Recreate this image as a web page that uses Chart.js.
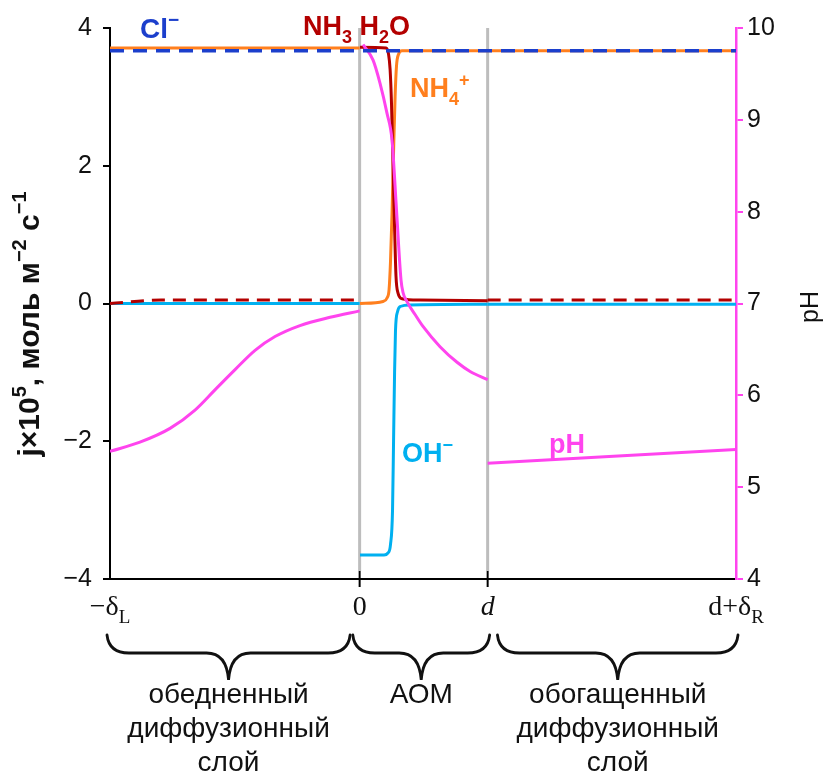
<!DOCTYPE html>
<html>
<head>
<meta charset="utf-8">
<script src="https://cdn.jsdelivr.net/npm/chart.js@4.4.1/dist/chart.umd.min.js"></script>
<style>
  html, body { margin: 0; padding: 0; background: #fff; }
  canvas { display: block; }
</style>
</head>
<body>
<canvas id="c" width="824" height="774"></canvas>
<script>
// Coordinate across the cell: -δL .. 0 (depleted layer), 0 .. d (AOM), d .. d+δR (enriched layer)
const xTickValues = [-1.95, 0, 1, 2.94];
const dividerX = [0, 1];

// Cl− flux (dashed, whole span)
const clX = [-1.95, 2.94];
const clJ = [3.67, 3.67];

// NH4+ flux
const nh4LeftX = [-1.95, 0];
const nh4LeftJ = [3.71, 3.71];
const nh4AomX = [0.003, 0.183, 0.214, 0.23, 0.241, 0.253, 0.265, 0.277, 0.288, 0.304, 0.331, 1.0];
const nh4AomJ = [0.0, 0.03, 0.08, 0.2, 0.6, 1.3, 2.2, 3.0, 3.45, 3.62, 3.67, 3.67];
const nh4RightX = [1, 2.94];
const nh4RightJ = [3.67, 3.67];

// NH3·H2O flux
const nh3LeftX = [-1.95, -1.55, 0];
const nh3LeftJ = [0.0, 0.05, 0.05];
const nh3AomX = [0.003, 0.206, 0.226, 0.238, 0.249, 0.261, 0.273, 0.284, 0.3, 0.331, 0.472, 1.0];
const nh3AomJ = [3.72, 3.71, 3.62, 3.4, 2.9, 2.0, 1.1, 0.4, 0.15, 0.07, 0.05, 0.04];
const nh3RightX = [1, 2.94];
const nh3RightJ = [0.05, 0.05];

// OH− flux
const ohLeftX = [-1.95, 0];
const ohLeftJ = [0, 0];
const ohAomX = [0.003, 0.191, 0.222, 0.241, 0.257, 0.265, 0.273, 0.280, 0.296, 0.323, 0.394, 1.0];
const ohAomJ = [-3.65, -3.65, -3.62, -3.5, -3.0, -2.0, -1.0, -0.4, -0.12, -0.04, -0.02, -0.01];
const ohRightX = [1, 2.94];
const ohRightJ = [-0.01, -0.01];

// pH profile
const phLeftX = [-1.95, -1.716, -1.481, -1.286, -1.13, -0.973, -0.817, -0.661, -0.466, -0.231, 0];
const phLeft = [5.39, 5.49, 5.64, 5.84, 6.06, 6.28, 6.49, 6.64, 6.76, 6.85, 6.92];
const phAomX = [0.027, 0.105, 0.159, 0.214, 0.253, 0.288, 0.323, 0.339, 0.37, 0.433, 0.495, 0.628, 0.761, 0.863, 1.0];
const phAom = [9.82, 9.65, 9.40, 9.07, 8.78, 8.02, 7.26, 7.12, 7.02, 6.88, 6.75, 6.53, 6.36, 6.26, 6.17];
const phRightX = [1, 2.94];
const phRight = [5.26, 5.41];

const C_CL = '#1c3fcc';
const C_NH4 = '#ff7f1e';
const C_NH3 = '#b30000';
const C_OH = '#00b0f0';
const C_PH = '#ff44ee';

const pts = (xs, ys) => xs.map((x, i) => ({ x, y: ys[i] }));

function line(data, color, opts) {
  return Object.assign({
    data, borderColor: color, backgroundColor: color, borderWidth: 3,
    pointRadius: 0, fill: false, showLine: true, yAxisID: 'y',
    cubicInterpolationMode: 'monotone', borderCapStyle: 'butt'
  }, opts || {});
}

const datasets = [
  line(pts(clX, clJ), C_CL, { borderDash: [14, 9], borderWidth: 3.5, order: 0 }),
  line(pts(phLeftX, phLeft), C_PH, { yAxisID: 'ph', order: 1 }),
  line(pts(phAomX, phAom), C_PH, { yAxisID: 'ph', order: 1 }),
  line(pts(phRightX, phRight), C_PH, { yAxisID: 'ph', order: 1 }),
  line(pts(nh3LeftX, nh3LeftJ), C_NH3, { borderDash: [13, 8], order: 2 }),
  line(pts(nh3AomX, nh3AomJ), C_NH3, { order: 2 }),
  line(pts(nh3RightX, nh3RightJ), C_NH3, { borderDash: [13, 8], order: 2 }),
  line(pts(nh4LeftX, nh4LeftJ), C_NH4, { order: 3 }),
  line(pts(nh4AomX, nh4AomJ), C_NH4, { order: 3 }),
  line(pts(nh4RightX, nh4RightJ), C_NH4, { order: 3 }),
  line(pts(ohLeftX, ohLeftJ), C_OH, { order: 4 }),
  line(pts(ohAomX, ohAomJ), C_OH, { order: 4 }),
  line(pts(ohRightX, ohRightJ), C_OH, { order: 4 })
];

// text with sub/superscripts: parts = [{t, sub, sup, it}]
function drawRich(ctx, parts, x, y, size, weight, family, color, align) {
  const fontFor = p => {
    const s = (p.sub || p.sup) ? Math.round(size * 0.68) : size;
    return (p.it ? 'italic ' : '') + weight + ' ' + s + 'px ' + family;
  };
  let total = 0;
  parts.forEach(p => { ctx.font = fontFor(p); total += ctx.measureText(p.t).width; });
  let cx = align === 'center' ? x - total / 2 : (align === 'right' ? x - total : x);
  ctx.fillStyle = color;
  ctx.textBaseline = 'alphabetic';
  ctx.textAlign = 'left';
  parts.forEach(p => {
    ctx.font = fontFor(p);
    const dy = p.sub ? size * 0.28 : (p.sup ? -size * 0.42 : 0);
    ctx.fillText(p.t, cx, y + dy);
    cx += ctx.measureText(p.t).width;
  });
}

function brace(ctx, x1, x2, xm, yTop, yMid, yTip) {
  const r = 22;
  ctx.beginPath();
  ctx.moveTo(x1, yTop);
  ctx.quadraticCurveTo(x1 + 2, yMid, x1 + r, yMid);
  ctx.lineTo(xm - r, yMid);
  ctx.quadraticCurveTo(xm - 2, yMid, xm, yTip);
  ctx.quadraticCurveTo(xm + 2, yMid, xm + r, yMid);
  ctx.lineTo(x2 - r, yMid);
  ctx.quadraticCurveTo(x2 - 2, yMid, x2, yTop);
  ctx.stroke();
}

const xTickParts = [
  [{ t: '\u2212\u03b4' }, { t: 'L', sub: true }],
  [{ t: '0' }],
  [{ t: 'd', it: true }],
  [{ t: 'd+\u03b4' }, { t: 'R', sub: true }]
];

const zoneLabels = [
  { from: -1.95, to: -0.09, lines: ['обедненный', 'диффузионный', 'слой'] },
  { from: -0.03, to: 1, lines: ['АОМ'] },
  { from: 1.1, to: 2.94, lines: ['обогащенный', 'диффузионный', 'слой'] }
];

const annot = {
  id: 'annot',
  beforeDatasetsDraw(chart) {
    const { ctx, chartArea: a, scales: { x } } = chart;
    ctx.save();
    ctx.strokeStyle = '#bdbdbd';
    ctx.lineWidth = 3;
    dividerX.forEach(v => {
      const px = x.getPixelForValue(v);
      ctx.beginPath();
      ctx.moveTo(px, a.top);
      ctx.lineTo(px, a.bottom - 8);
      ctx.stroke();
    });
    ctx.restore();
  },
  afterDraw(chart) {
    const { ctx, chartArea: a, scales: { x } } = chart;
    ctx.save();
    // x tick marks
    ctx.strokeStyle = '#000';
    ctx.lineWidth = 2;
    xTickValues.slice(1, 3).forEach(v => {
      const px = x.getPixelForValue(v);
      ctx.beginPath();
      ctx.moveTo(px, a.bottom - 8);
      ctx.lineTo(px, a.bottom + 8);
      ctx.stroke();
    });
    // x tick labels
    xTickValues.forEach((v, i) => {
      const px = x.getPixelForValue(v);
      drawRich(ctx, xTickParts[i], px, a.bottom + 36, 28, 'normal', '"Liberation Serif", "Times New Roman", serif', '#111', 'center');
    });
    // braces and zone captions
    ctx.strokeStyle = '#111';
    ctx.lineWidth = 2.8;
    ctx.lineCap = 'round';
    zoneLabels.forEach(z => {
      const p1 = x.getPixelForValue(z.from) - 3;
      const p2 = x.getPixelForValue(z.to) + 2;
      const pm = (p1 + p2) / 2;
      brace(ctx, p1, p2, pm, a.bottom + 56, a.bottom + 74, a.bottom + 101);
      z.lines.forEach((t, k) => {
        ctx.font = '28px "Liberation Sans", Arial, sans-serif';
        ctx.fillStyle = '#111';
        ctx.textAlign = 'center';
        ctx.textBaseline = 'alphabetic';
        ctx.fillText(t, pm, a.bottom + 124 + k * 34);
      });
    });
    // series labels
    const bold = '"Liberation Sans", Arial, sans-serif';
    drawRich(ctx, [{ t: 'Cl' }, { t: '\u2212', sup: true }], 140, 38, 28, 'bold', bold, C_CL, 'left');
    drawRich(ctx, [{ t: 'NH' }, { t: '3', sub: true }, { t: ' H' }, { t: '2', sub: true }, { t: 'O' }], 303, 35, 27, 'bold', bold, C_NH3, 'left');
    drawRich(ctx, [{ t: 'NH' }, { t: '4', sub: true }, { t: '+', sup: true }], 410, 97, 27, 'bold', bold, C_NH4, 'left');
    drawRich(ctx, [{ t: 'OH' }, { t: '\u2212', sup: true }], 402, 462, 27, 'bold', bold, C_OH, 'left');
    drawRich(ctx, [{ t: 'pH' }], 549, 453, 27, 'bold', bold, C_PH, 'left');
    // axis titles (both read bottom to top)
    ctx.save();
    ctx.translate(39, 324);
    ctx.rotate(-Math.PI / 2);
    drawRich(ctx, [{ t: 'j\u00d710' }, { t: '5', sup: true }, { t: ', моль м' }, { t: '\u22122', sup: true }, { t: ' с' }, { t: '\u22121', sup: true }], 0, 0, 30, 'bold', bold, '#111', 'center');
    ctx.restore();
    ctx.save();
    ctx.translate(818, 307);
    ctx.rotate(-Math.PI / 2);
    drawRich(ctx, [{ t: 'pH' }], 0, 0, 25, 'normal', bold, '#111', 'center');
    ctx.restore();
    ctx.restore();
  }
};

new Chart(document.getElementById('c'), {
  type: 'scatter',
  data: { datasets },
  plugins: [annot],
  options: {
    responsive: false,
    animation: false,
    devicePixelRatio: 1,
    layout: { padding: { top: 28, left: 0, right: 0, bottom: 0 } },
    plugins: { legend: { display: false }, tooltip: { enabled: false } },
    scales: {
      x: {
        type: 'linear', min: -1.95, max: 2.94,
        ticks: { display: false },
        grid: { display: true, drawOnChartArea: false, drawTicks: false },
        border: { color: '#000', width: 2 },
        afterFit: s => { s.height = 195; }
      },
      y: {
        position: 'left', min: -4, max: 4,
        ticks: {
          stepSize: 2, color: '#111', padding: 11,
          font: { size: 25, family: '"Liberation Sans", Arial, sans-serif' },
          callback: v => (v < 0 ? '\u2212' + Math.abs(v) : String(v))
        },
        grid: { drawOnChartArea: false, color: '#000', lineWidth: 2, tickLength: 7 },
        border: { color: '#000', width: 2 },
        afterFit: s => { s.width = 110; }
      },
      ph: {
        position: 'right', min: 4, max: 10,
        ticks: {
          stepSize: 1, color: '#111', padding: 4,
          font: { size: 25, family: '"Liberation Sans", Arial, sans-serif' }
        },
        grid: { drawOnChartArea: false, color: C_PH, lineWidth: 2, tickLength: 7 },
        border: { color: C_PH, width: 2.5 },
        afterFit: s => { s.width = 88; }
      }
    }
  }
});
</script>
</body>
</html>
